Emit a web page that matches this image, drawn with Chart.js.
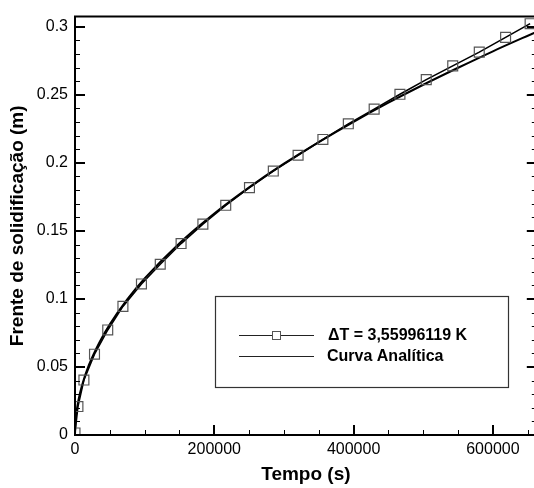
<!DOCTYPE html>
<html>
<head>
<meta charset="utf-8">
<script src="https://cdn.jsdelivr.net/npm/chart.js@4.4.0/dist/chart.umd.min.js"></script>
<style>
  html, body { margin: 0; padding: 0; overflow: hidden; background: #fff; width: 534px; height: 488px; }
  #wrap { width: 545px; height: 488px; }
</style>
</head>
<body>
<div id="wrap"><canvas id="frenteChart" width="545" height="488"></canvas></div>
<script>
// Solução numérica: tempo (s) x posição da frente (m)
const tempoNum = [0, 4200, 12800, 28000, 47000, 68800, 95400, 122400, 152300, 183600, 216400, 250500,
  284700, 320300, 355900, 392400, 429500, 466500, 504300, 542300, 580400, 618200, 653400];
const frenteNum = [0.0015, 0.0209, 0.0404, 0.0594, 0.0772, 0.0945, 0.111, 0.1255, 0.1407, 0.155, 0.1688, 0.1818,
  0.194, 0.2056, 0.2172, 0.2287, 0.2395, 0.2504, 0.2612, 0.2713, 0.2814, 0.2922, 0.3023];

// Curva analítica
const tempoAna = [0, 500, 2000, 5000, 10000, 20000, 35000, 50000, 75000, 100000, 150000, 200000, 250000,
  300000, 350000, 400000, 450000, 500000, 550000, 600000, 663000];
const frenteAna = [0, 0.0081, 0.0163, 0.0257, 0.0364, 0.0515, 0.0681, 0.0814, 0.0997, 0.1151, 0.141, 0.1628, 0.182,
  0.1994, 0.2153, 0.2302, 0.2442, 0.2574, 0.2699, 0.282, 0.2964];

// Ticks dos eixos
const xTicks = [0, 200000, 400000, 600000];
const xMinor = [50000, 100000, 150000, 250000, 300000, 350000, 450000, 500000, 550000, 650000];
const yTicks = [0, 0.05, 0.1, 0.15, 0.2, 0.25, 0.3];
const yMinor = [0.01, 0.02, 0.03, 0.04, 0.06, 0.07, 0.08, 0.09, 0.11, 0.12, 0.13, 0.14, 0.16, 0.17, 0.18, 0.19,
  0.21, 0.22, 0.23, 0.24, 0.26, 0.27, 0.28, 0.29];

const legendLabels = ["\u0394T = 3,55996119 K", "Curva Analítica"];

Chart.defaults.font.family = "'Liberation Sans', Arial, sans-serif";
Chart.defaults.color = "#000";

// Eixos com ticks para dentro + legenda dentro da área
const eixos = {
  id: "eixos",
  afterDraw(chart) {
    const ctx = chart.ctx;
    const ca = chart.chartArea;
    const sx = chart.scales.x, sy = chart.scales.y;
    ctx.save();
    ctx.strokeStyle = "#000";

    // moldura
    ctx.lineWidth = 2;
    ctx.beginPath();
    ctx.moveTo(ca.left, ca.top); ctx.lineTo(ca.right, ca.top);
    ctx.lineTo(ca.right, ca.bottom); ctx.lineTo(ca.left, ca.bottom);
    ctx.closePath();
    ctx.stroke();

    // ticks principais
    ctx.beginPath();
    xTicks.forEach(v => {
      const px = Math.round(sx.getPixelForValue(v));
      ctx.moveTo(px, ca.bottom); ctx.lineTo(px, ca.bottom - 10);
    });
    yTicks.forEach(v => {
      const py = Math.round(sy.getPixelForValue(v));
      ctx.moveTo(ca.left, py); ctx.lineTo(ca.left + 10, py);
      ctx.moveTo(ca.right, py); ctx.lineTo(ca.right - 10, py);
    });
    ctx.stroke();

    // ticks secundarios
    ctx.lineWidth = 1;
    ctx.beginPath();
    xMinor.forEach(v => {
      const px = Math.round(sx.getPixelForValue(v)) + 0.5;
      ctx.moveTo(px, ca.bottom); ctx.lineTo(px, ca.bottom - 5);
    });
    yMinor.forEach(v => {
      const py = Math.round(sy.getPixelForValue(v)) + 0.5;
      ctx.moveTo(ca.left, py); ctx.lineTo(ca.left + 5, py);
      ctx.moveTo(ca.right, py); ctx.lineTo(ca.right - 5, py);
    });
    ctx.stroke();

    // legenda
    ctx.fillStyle = "#fff";
    ctx.fillRect(215, 296, 293, 91);
    ctx.strokeStyle = "#333";
    ctx.lineWidth = 1.2;
    ctx.strokeRect(215.5, 296.5, 293, 91);

    ctx.strokeStyle = "#222";
    ctx.lineWidth = 1;
    ctx.beginPath();
    ctx.moveTo(239, 335.5); ctx.lineTo(314, 335.5);
    ctx.moveTo(239, 356.5); ctx.lineTo(314, 356.5);
    ctx.stroke();
    ctx.strokeStyle = "#555";
    ctx.fillStyle = "#fff";
    ctx.fillRect(272.5, 331.5, 8, 8);
    ctx.strokeRect(272.5, 331.5, 8, 8);

    ctx.fillStyle = "#000";
    ctx.font = "bold 16px 'Liberation Sans', Arial, sans-serif";
    ctx.textBaseline = "middle";
    ctx.textAlign = "left";
    ctx.fillText(legendLabels[0], 328, 336);
    ctx.fillText(legendLabels[1], 327, 357);
    ctx.restore();
  }
};

new Chart(document.getElementById("frenteChart"), {
  type: "scatter",
  data: {
    datasets: [
      {
        label: legendLabels[0],
        data: tempoNum.map((t, i) => ({ x: t, y: frenteNum[i] })),
        showLine: true,
        borderColor: "#000",
        borderWidth: 1.6,
        pointStyle: "rect",
        pointRadius: 7,
        pointBorderColor: "#555",
        pointBorderWidth: 1.2,
        pointBackgroundColor: "rgba(0,0,0,0)",
        tension: 0
      },
      {
        label: legendLabels[1],
        data: tempoAna.map((t, i) => ({ x: t, y: frenteAna[i] })),
        showLine: true,
        borderColor: "#000",
        borderWidth: 2,
        pointRadius: 0,
        cubicInterpolationMode: "monotone"
      }
    ]
  },
  options: {
    responsive: false,
    animation: false,
    layout: { padding: { top: 10, right: 4, left: 0, bottom: 0 } },
    plugins: {
      legend: { display: false },
      tooltip: { enabled: false }
    },
    scales: {
      x: {
        type: "linear",
        min: 0,
        max: 663000,
        afterBuildTicks: s => { s.ticks = xTicks.map(v => ({ value: v })); },
        afterFit: s => { s.height = 53; },
        grid: { display: false, drawTicks: false },
        border: { display: false },
        ticks: { font: { size: 16 }, padding: 5, maxRotation: 0, callback: v => String(v) },
        title: { display: true, text: "Tempo (s)", font: { size: 19, weight: "bold" }, padding: { top: 0, bottom: 2 } }
      },
      y: {
        type: "linear",
        min: 0,
        max: 0.3075,
        afterBuildTicks: s => { s.ticks = yTicks.map(v => ({ value: v })); },
        afterFit: s => { s.width = 75; },
        grid: { display: false, drawTicks: false },
        border: { display: false },
        ticks: { font: { size: 16 }, padding: 7, callback: v => String(v) },
        title: { display: true, text: "Frente de solidificação (m)", font: { size: 19, weight: "bold" }, padding: { top: 6, bottom: 0 } }
      }
    }
  },
  plugins: [eixos]
});
</script>
</body>
</html>
